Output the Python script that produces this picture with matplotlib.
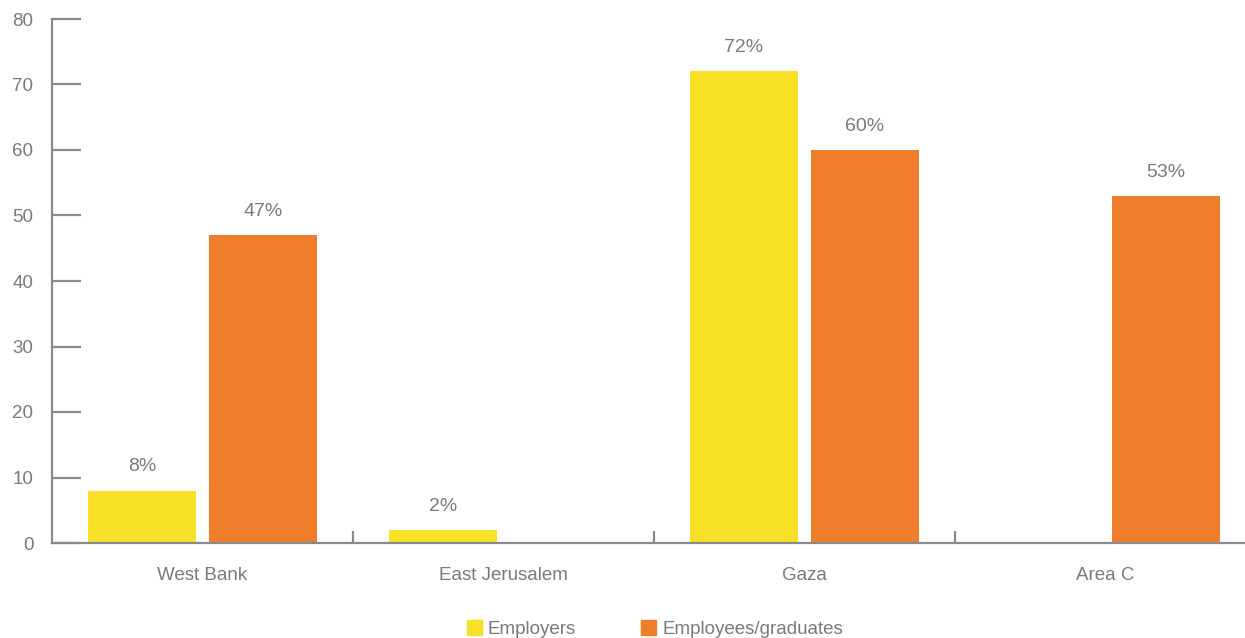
import matplotlib
matplotlib.use("Agg")
import matplotlib.pyplot as plt
from matplotlib.patches import Patch
import numpy as np

plt.rcParams['font.family'] = ['Liberation Sans', 'DejaVu Sans']

regions = ["West Bank", "East Jerusalem", "Gaza", "Area C"]
employers = [8, 2, 72, 0]
employees = [47, 0, 60, 53]
series_names = ["Employers", "Employees/graduates"]
yticks = [0, 10, 20, 30, 40, 50, 60, 70, 80]

yellow = "#F8E026"
orange = "#EE7D2C"
axis_gray = "#8A8A8C"
text_gray = "#7A7A7C"
fs = 13.5

fig = plt.figure(figsize=(12.45, 6.38), dpi=100)
ax = fig.add_axes([52 / 1245, 95 / 638, 1204 / 1245, 524 / 638])

x = np.arange(len(regions))
bw = 0.362
off = 0.201
b1 = ax.bar(x - off, employers, bw, color=yellow)
b2 = ax.bar(x + off, employees, bw, color=orange)

for bars, vals in ((b1, employers), (b2, employees)):
    for rect, v in zip(bars, vals):
        if v > 0:
            ax.annotate(f"{v}%", (rect.get_x() + rect.get_width() / 2, v),
                        xytext=(0, 17), textcoords="offset points",
                        ha="center", va="center", fontsize=fs + 0.5,
                        color=text_gray)

ax.set_xlim(-0.5, len(regions) - 0.5)
ax.set_ylim(0, 80)
ax.set_yticks(yticks)
ax.set_xticks(x)
ax.set_xticklabels(regions)
ax.set_xticks(np.arange(len(regions) - 1) + 0.5, minor=True)

for s in ("top", "right"):
    ax.spines[s].set_visible(False)
for s in ("left", "bottom"):
    ax.spines[s].set_color(axis_gray)
    ax.spines[s].set_linewidth(1.6)

ax.tick_params(axis="y", direction="in", length=21, width=1.6, color=axis_gray,
               labelcolor=text_gray, labelsize=fs, pad=13.5)
ax.tick_params(axis="x", which="major", length=0, labelcolor=text_gray,
               labelsize=fs, pad=17)
ax.tick_params(axis="x", which="minor", direction="in", length=8.5, width=1.6,
               color=axis_gray)

handles = [Patch(color=yellow), Patch(color=orange)]
fig.legend(handles, series_names, loc="center", bbox_to_anchor=(0.526, 0.014),
           ncol=2, frameon=False, fontsize=fs, labelcolor=text_gray,
           handlelength=0.8, handleheight=0.8, handletextpad=0.3,
           columnspacing=3.5)

fig.savefig("out.png", dpi=100)
